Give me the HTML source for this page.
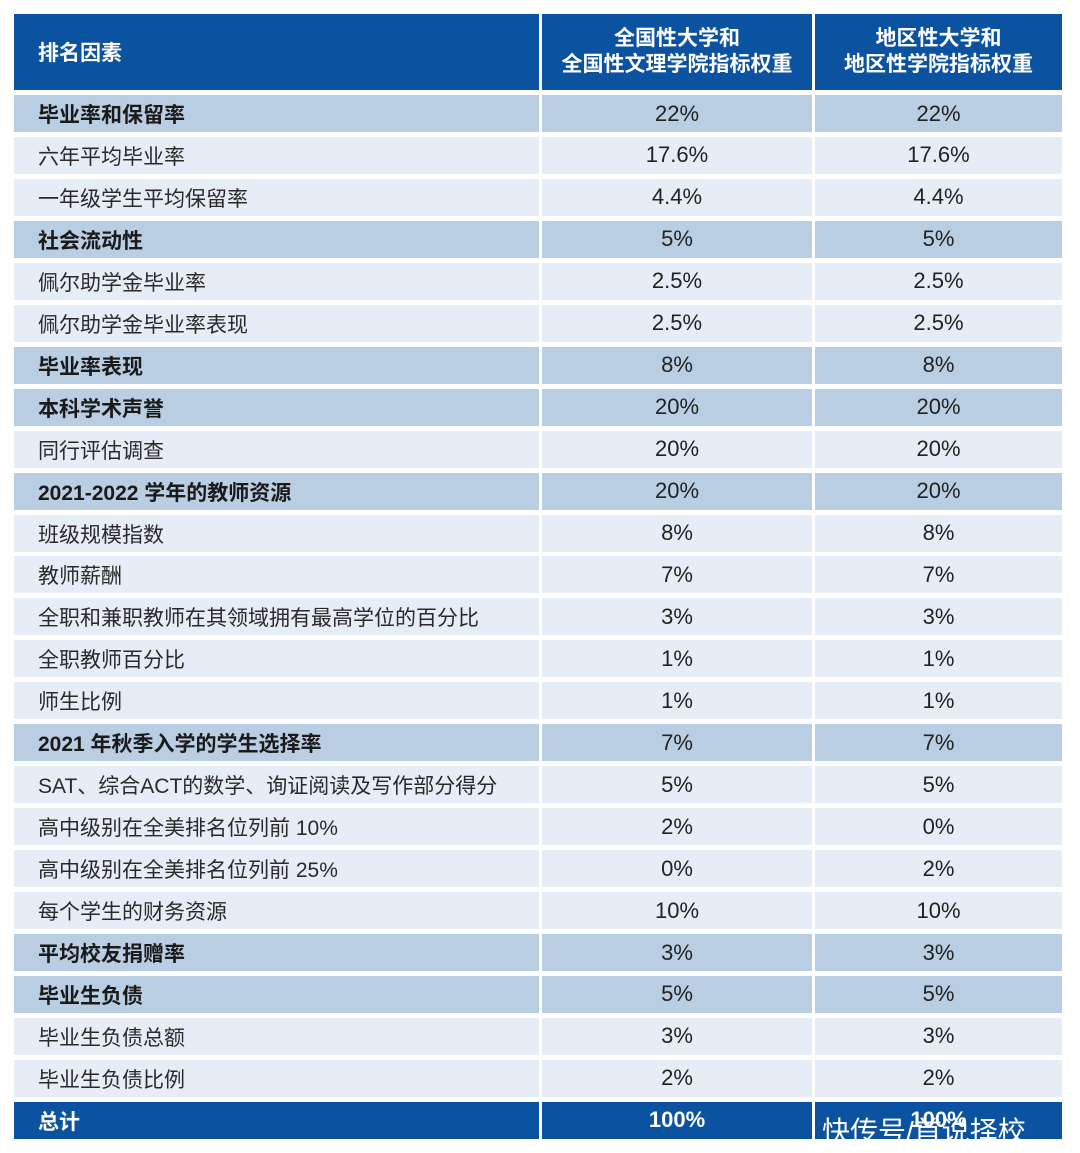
<!DOCTYPE html>
<html><head><meta charset="utf-8">
<style>
body{margin:0;background:#fff;width:1080px;height:1153px;position:relative;overflow:hidden;font-family:"Liberation Sans","Noto Sans CJK SC",sans-serif;}
.c{position:absolute;display:flex;align-items:center;box-sizing:border-box;}
.h{background:#0b52a0;color:#fff;font-weight:bold;font-size:21px;}
.sec{background:#b9cde3;}
.nor{background:#e6edf6;}
.lab{padding-left:24px;font-size:21px;color:#2a2a2a;padding-top:1px;}
.val{justify-content:center;font-size:22px;color:#222;}
.b{font-weight:bold;color:#1a1a1a;}
.tot{background:#0b52a0;color:#fff;font-weight:bold;}
#wm{position:absolute;left:822px;top:1110px;font-size:28px;color:#fff;white-space:nowrap;}
</style></head><body>
<div class="c h" style="left:14px;top:14px;width:525px;height:76px;padding-left:24px">排名因素</div>
<div class="c h" style="left:542px;top:14px;width:270px;height:76px;justify-content:center;text-align:center;line-height:26px">全国性大学和<br>全国性文理学院指标权重</div>
<div class="c h" style="left:815px;top:14px;width:247px;height:76px;justify-content:center;text-align:center;line-height:26px">地区性大学和<br>地区性学院指标权重</div>
<div id="rows"></div>
<div id="wm">快传号/首说择校</div>
<script>
const factors=["毕业率和保留率","六年平均毕业率","一年级学生平均保留率","社会流动性","佩尔助学金毕业率","佩尔助学金毕业率表现","毕业率表现","本科学术声誉","同行评估调查","2021-2022 学年的教师资源","班级规模指数","教师薪酬","全职和兼职教师在其领域拥有最高学位的百分比","全职教师百分比","师生比例","2021 年秋季入学的学生选择率","SAT、综合ACT的数学、询证阅读及写作部分得分","高中级别在全美排名位列前 10%","高中级别在全美排名位列前 25%","每个学生的财务资源","平均校友捐赠率","毕业生负债","毕业生负债总额","毕业生负债比例","总计"];
const national=["22%","17.6%","4.4%","5%","2.5%","2.5%","8%","20%","20%","20%","8%","7%","3%","1%","1%","7%","5%","2%","0%","10%","3%","5%","3%","2%","100%"];
const regional=["22%","17.6%","4.4%","5%","2.5%","2.5%","8%","20%","20%","20%","8%","7%","3%","1%","1%","7%","5%","0%","2%","10%","3%","5%","3%","2%","100%"];
const section=[1,0,0,1,0,0,1,1,0,1,0,0,0,0,0,1,0,0,0,0,1,1,0,0,2];
const root=document.getElementById('rows');
const cols=[[14,525],[542,270],[815,247]];
factors.forEach((f,i)=>{
  const top=95+i*41.95, h=37;
  const cls=section[i]===2?'tot':(section[i]?'sec':'nor');
  const texts=[f,national[i],regional[i]];
  cols.forEach((c,j)=>{
    const d=document.createElement('div');
    d.className='c '+cls+' '+(j===0?'lab':'val')+(section[i]&&j===0?' b':'')+(section[i]===2?' b':'');
    d.style.cssText=`left:${c[0]}px;top:${top}px;width:${c[1]}px;height:${h}px`+(section[i]===2?';color:#fff':'');
    d.textContent=texts[j];
    
    
    root.appendChild(d);
  });
});
</script>
</body></html>
